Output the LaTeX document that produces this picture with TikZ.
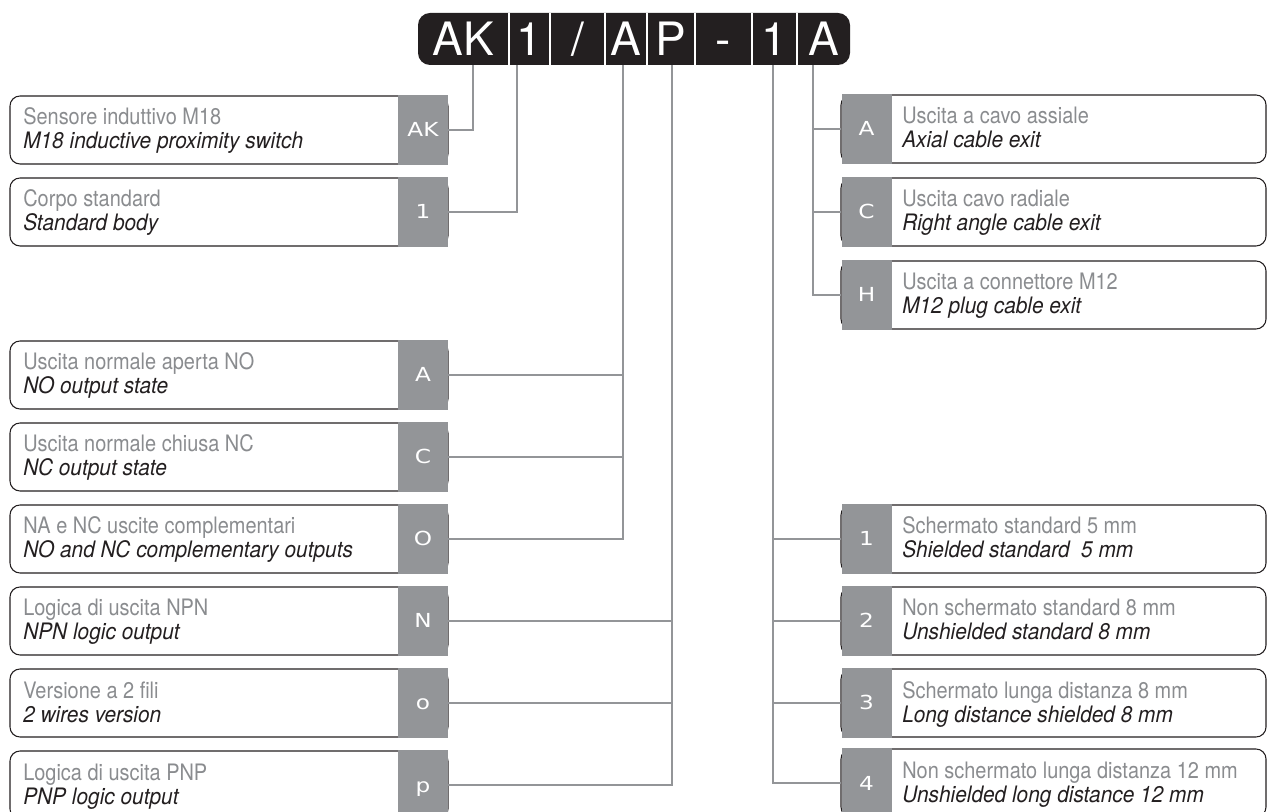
\documentclass[tikz,border=0pt]{standalone}
\usepackage{fontspec}
\setmainfont{TeX Gyre Heros}[FakeStretch=0.88]
\newfontfamily\itfont{TeX Gyre Heros}[FakeStretch=0.92]
\newfontfamily\hdrfont{TeX Gyre Heros}
\newfontfamily\codefont{DejaVu Sans}[FakeStretch=1.2]
\usetikzlibrary{calc}
\definecolor{hdrblack}{RGB}{35,31,32}
\definecolor{codegray}{RGB}{147,149,152}
\definecolor{txtgray}{RGB}{138,140,143}
\definecolor{linegray}{RGB}{147,149,152}
\tikzset{
  conn/.style={draw=linegray, line width=1.6pt},
  lbox/.style={draw=hdrblack, line width=0.8pt, rounded corners=7.5pt, minimum width=328.5pt, minimum height=51pt, inner sep=0pt},
  rbox/.style={draw=hdrblack, line width=0.8pt, rounded corners=7.5pt, minimum width=318.75pt, minimum height=51pt, inner sep=0pt},
  codesq/.style={fill=codegray, minimum width=37.5pt, minimum height=52.5pt, inner sep=0pt, text=white, text height=10.5pt, text depth=0pt, font=\codefont\fontsize{14.5}{14.5}\selectfont},
  uptxt/.style={anchor=base west, inner sep=0pt, text=txtgray, font=\fontsize{17}{17}\selectfont},
  lotxt/.style={anchor=base west, inner sep=0pt, text=hdrblack, font=\itfont\fontsize{17}{17}\selectfont\itshape},
  hcell/.style={text=white, inner sep=0pt, text height=24.5pt, text depth=0pt, font=\hdrfont\fontsize{34.5}{34.5}\selectfont},
  sep/.style={draw=white, line width=1.5pt},
}
\newcommand\leftrow[5]{%
  \node[lbox] (b#1) at (229,#2) {};
  \node[codesq] (c#1) at (423,#2) {#3};
  \node[uptxt] (u#1) at (23,{#2-5}) {#4};
  \node[lotxt] (l#1) at (23,{#2+19}) {#5};
}
\newcommand\rightrow[5]{%
  \node[rbox] (b#1) at (1053.5,#2) {};
  \node[codesq] (c#1) at (866.5,#2) {#3};
  \node[uptxt] (u#1) at (902,{#2-5}) {#4};
  \node[lotxt] (l#1) at (902,{#2+19}) {#5};
}
\begin{document}
\begin{tikzpicture}[x=0.75pt,y=-0.75pt]
\useasboundingbox (0,0) rectangle (1268,812);
\clip (0,0) rectangle (1268,812);
% header
\node[fill=hdrblack, rounded corners=9pt, minimum width=324pt, minimum height=39pt, inner sep=0pt] (hdr) at (634,39) {};
\foreach \x in {509,550,605,647,695,752,797} \draw[sep] (\x,13) -- (\x,65);
\node[hcell] (hAK) at (463.5,39) {AK};
\node[hcell] (h1) at (529.5,39) {1};
\node[hcell] (hsl) at (577.5,39) {/};
\node[hcell] (hA) at (626,39) {A};
\node[hcell] (hP) at (671,39) {P};
\node[hcell] (hda) at (723.5,39) {-};
\node[hcell] (h1b) at (774.5,39) {1};
\node[hcell] (hAb) at (823.5,39) {A};
\coordinate (tAK) at (473,65);
\coordinate (t1) at (517,65);
\coordinate (tA) at (623,65);
\coordinate (tP) at (672,65);
\coordinate (t1b) at (773,65);
\coordinate (tAb) at (813,65);
% left rows
\leftrow{AK}{130}{AK}{Sensore induttivo M18}{M18 inductive proximity switch}
\leftrow{one}{212}{1}{Corpo standard}{Standard body}
\leftrow{LA}{375}{A}{Uscita normale aperta NO}{NO output state}
\leftrow{LC}{457}{C}{Uscita normale chiusa NC}{NC output state}
\leftrow{LO}{539}{O}{NA e NC uscite complementari}{NO and NC complementary outputs}
\leftrow{LN}{621}{N}{Logica di uscita NPN}{NPN logic output}
\leftrow{Lo}{703}{o}{Versione a 2 fili}{2 wires version}
\leftrow{Lp}{785}{p}{Logica di uscita PNP}{PNP logic output}
% right rows
\rightrow{RA}{129}{A}{Uscita a cavo assiale}{Axial cable exit}
\rightrow{RC}{212}{C}{Uscita cavo radiale}{Right angle cable exit}
\rightrow{RH}{295}{H}{Uscita a connettore M12}{M12 plug cable exit}
\rightrow{R1}{539}{1}{Schermato standard 5 mm}{Shielded standard\ \ 5 mm}
\rightrow{R2}{621}{2}{Non schermato standard 8 mm}{Unshielded standard 8 mm}
\rightrow{R3}{703}{3}{Schermato lunga distanza 8 mm}{Long distance shielded 8 mm}
\rightrow{R4}{783}{4}{Non schermato lunga distanza 12 mm}{Unshielded long distance 12 mm}
% connectors
\draw[conn] (cAK.east) -| (tAK);
\draw[conn] (cone.east) -| (t1);
\draw[conn] (tA) |- (cLO.east);
\draw[conn] (cLA.east) -- (cLA.east -| tA);
\draw[conn] (cLC.east) -- (cLC.east -| tA);
\draw[conn] (tP) |- (cLp.east);
\draw[conn] (cLN.east) -- (cLN.east -| tP);
\draw[conn] (cLo.east) -- (cLo.east -| tP);
\draw[conn] (t1b) |- (cR4.west);
\draw[conn] (cR1.west) -- (cR1.west -| t1b);
\draw[conn] (cR2.west) -- (cR2.west -| t1b);
\draw[conn] (cR3.west) -- (cR3.west -| t1b);
\draw[conn] (tAb) |- (cRH.west);
\draw[conn] (cRA.west) -- (cRA.west -| tAb);
\draw[conn] (cRC.west) -- (cRC.west -| tAb);
\end{tikzpicture}
\end{document}
